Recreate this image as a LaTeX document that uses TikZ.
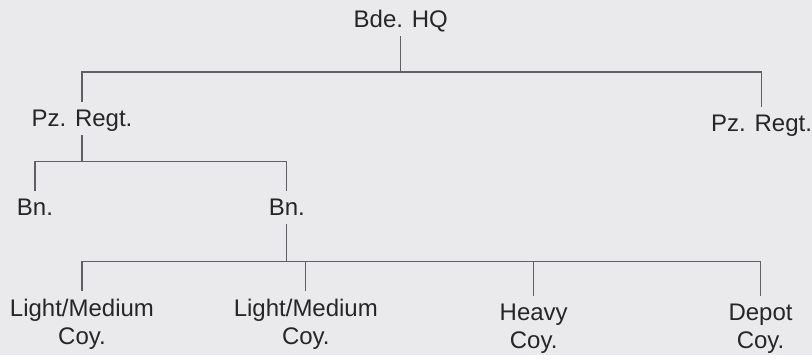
\documentclass[tikz,border=0pt]{standalone}
\usepackage{fontspec}
\setmainfont{Liberation Sans}
\definecolor{paper}{RGB}{234,234,236}
\definecolor{ink}{RGB}{38,38,40}
\definecolor{wire}{RGB}{95,95,100}

\begin{document}
\begin{tikzpicture}[
    x = 1pt, y = -1pt,
    unit/.style = {font = \fontsize{24}{28}\selectfont, text = ink, anchor = base,
                   inner xsep = 0pt, inner ysep = 8pt, text height = 17pt, text depth = 0pt},
    coy/.style = {font = \fontsize{24}{28}\selectfont, text = ink, anchor = base,
                  inner xsep = 0pt, inner ysep = 8pt, align = center},
    link/.style = {draw = wire, line width = 1.1pt}]

\fill[paper] (0,0) rectangle (812,355);

% units
\path (401,28) node[unit](hq) {Bde. HQ}
      (82,127) node[unit](pzl) {Pz. Regt.}
      (762,132) node[unit](pzr) {Pz. Regt.}
      (35,216) node[unit](bnl) {Bn.}
      (287,216) node[unit](bnr) {Bn.}
      (82,345) node[coy](coya) {Light/Medium\\Coy.}
      (306,345) node[coy](coyb) {Light/Medium\\Coy.}
      (534,349) node[coy](coyc) {Heavy\\Coy.}
      (761,349) node[coy](coyd) {Depot\\Coy.};
\coordinate (busa) at (0,72);
\coordinate (busb) at (0,162);
\coordinate (busc) at (0,262);

% tree lines
\draw[link] (hq.south) -- (hq.south |- busa)
      (pzl.north) -- (pzl.north |- busa) -- (pzr.north |- busa) -- (pzr.north);
\draw[link] (pzl.south) -- (pzl.south |- busb)
      (bnl.north) -- (bnl.north |- busb) -- (bnr.north |- busb) -- (bnr.north);
\draw[link] (bnr.south) -- (bnr.south |- busc)
      (coya.north) -- (coya.north |- busc) -- (coyd.north |- busc) -- (coyd.north)
      (coyb.north) -- (coyb.north |- busc)
      (coyc.north) -- (coyc.north |- busc);
\end{tikzpicture}
\end{document}
